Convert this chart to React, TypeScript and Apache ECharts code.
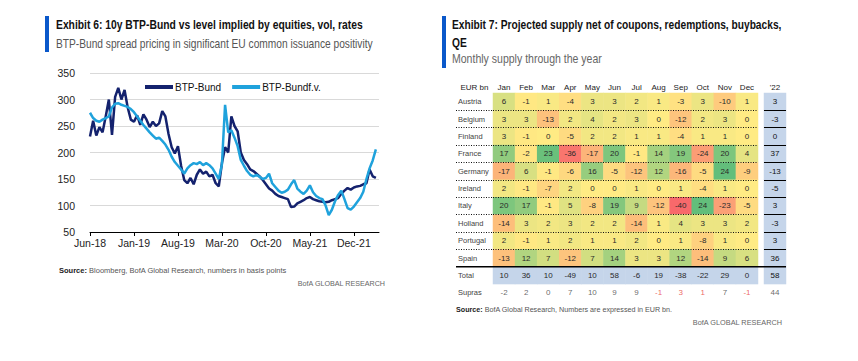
import React, { useEffect, useRef } from "react";
import * as echarts from "echarts";

const SANS = "'Liberation Sans', Arial, sans-serif";
const BLUE_BAR = "#0a58ca";
const DARK = "#14226e";
const LIGHT = "#1fa2dc";
const TOTAL_BLUE = "#c5d5ea";

// ---- Exhibit 6: semi-monthly observations starting Jun-2018 (bp)
const btpBund = [
  230, 260, 232, 248, 238, 268, 300, 233, 305, 322,
  300, 318, 285, 262, 258, 270, 252, 272, 262, 248,
  258, 250, 255, 278, 268, 235, 210, 198, 212, 175,
  148, 142, 152, 140, 158, 168, 160, 164, 155, 158,
  142, 136, 180, 210, 200, 268, 250, 240, 200, 186,
  178, 168, 165, 160, 155, 148, 140, 132, 128, 122,
  118, 116, 114, 112, 97, 98, 104, 107, 110, 114,
  116, 112, 110, 108, 107, 106, 107, 110, 112, 114,
  122, 128, 133, 130, 134, 136, 137, 140, 142, 168,
  155, 152,
];
const btpBundFv = [
  275, 265, 260, 258, 262, 265, 268, 285, 292, 293,
  290, 288, 286, 282, 276, 268, 260, 252, 245, 238,
  232, 226, 228, 222, 215, 205, 192, 182, 175, 168,
  160, 170, 176, 180, 178, 182, 176, 180, 176, 170,
  160, 150, 178, 290, 238, 242, 228, 212, 186, 175,
  165, 158, 155, 158, 154, 150, 152, 160, 142, 135,
  128, 124, 126, 130, 140, 148, 132, 126, 122, 128,
  138, 125, 118, 114, 112, 100, 82, 92, 108, 120,
  128, 112, 95, 92, 98, 106, 114, 126, 150, 170,
  185, 206,
];
const xTickMonths = [0, 7, 14, 21, 28, 35, 42];
const xTickLabels = ["Jun-18", "Jan-19", "Aug-19", "Mar-20", "Oct-20", "May-21", "Dec-21"];

// ---- Exhibit 7
const months = ["Jan", "Feb", "Mar", "Apr", "May", "Jun", "Jul", "Aug", "Sep", "Oct", "Nov", "Dec"];
const countries = ["Austria", "Belgium", "Finland", "France", "Germany", "Ireland", "Italy", "Holland", "Portugal", "Spain"];
const austria = [6, -1, 1, -4, 3, 3, 2, 1, -3, 3, -10, 1];
const belgium = [3, 3, -13, 2, 4, 2, 3, 0, -12, 2, 3, 0];
const finland = [3, -1, 0, -5, 2, 2, 1, 1, -4, 1, 1, 0];
const france = [17, -2, 23, -36, -17, 20, -1, 14, 19, -24, 20, 4];
const germany = [-17, 6, -1, -6, 16, -5, -12, 12, -16, -5, 24, -9];
const ireland = [2, -1, -7, 2, 0, 0, 1, 0, 1, -4, 1, 0];
const italy = [20, 17, -1, 5, -8, 19, 9, -12, -40, 24, -23, -5];
const holland = [-14, 3, 2, 3, 2, 2, -14, 1, 4, 3, 3, 2];
const portugal = [2, -1, 1, 2, 1, 1, 2, 0, 1, -8, 1, 0];
const spain = [-13, 12, 7, -12, 7, 14, 3, 3, 12, -14, 9, 6];
const year22 = [3, -3, 0, 37, -13, -5, 3, -3, 3, 36];
const totalRow = [10, 36, 10, -49, 10, 58, -6, 19, -38, -22, 29, 0];
const total22 = 58;
const suprasRow = [-2, 2, 0, 7, 10, 9, 9, -1, 3, 1, 7, -1];
const supras22 = 44;
const suprasRedMonths = ["Aug", "Sep", "Oct", "Dec"];

const countryRows = [austria, belgium, finland, france, germany, ireland, italy, holland, portugal, spain];

function hexToRgb(h: string) {
  return [1, 3, 5].map((i) => parseInt(h.slice(i, i + 2), 16));
}
function lerpHex(a: string, b: string, t: number) {
  const A = hexToRgb(a), B = hexToRgb(b);
  return "#" + A.map((v, i) => Math.round(v + (B[i] - v) * t).toString(16).padStart(2, "0")).join("");
}
const RED = "#f8696b", YEL = "#ffeb84", GRN = "#63be7b";
// stops every 8 units from -40 to 24 -> yellow at 0
const heatScale = [
  ...[0, 1, 2, 3, 4].map((k) => lerpHex(RED, YEL, k / 5)),
  ...[0, 1, 2, 3].map((k) => lerpHex(YEL, GRN, k / 3)),
];

const ROW_H = 17.37;
const TOP1 = 93;
const TOP2 = TOP1 + 10 * ROW_H;
const L_LEFT = 456, L_W = 37;
const M_LEFT = 493, M_W = 265;
const Y_LEFT = 764, Y_W = 22;

let measureCtx: CanvasRenderingContext2D | null = null;
function textWidth(text: string, font: string) {
  if (!measureCtx) measureCtx = document.createElement("canvas").getContext("2d");
  if (!measureCtx) return text.length * 6;
  measureCtx.font = font;
  return measureCtx.measureText(text).width;
}

const F_TITLE = `bold 12px ${SANS}`;
const F_SUB = `12px ${SANS}`;
const F_SRC_B = `bold 8px ${SANS}`;
const F_SRC = `8px ${SANS}`;

function fitText(x: number, y: number, text: string, font: string, target: number, fill: string, align = "left", scaleFrom?: number) {
  const s = scaleFrom ?? target / textWidth(text, font);
  return {
    type: "text", x, y, scaleX: s, scaleY: 1,
    style: { text, font, fill, align, verticalAlign: "middle" },
  };
}
function sourceText(x: number, y: number, rest: string, target: number) {
  const w = textWidth("Source:", F_SRC_B) + textWidth(" " + rest, F_SRC);
  return {
    type: "text", x, y, scaleX: target / w, scaleY: 1,
    style: {
      text: `{b|Source:}{n| ${rest}}`,
      verticalAlign: "middle",
      rich: {
        b: { fontWeight: "bold", fontSize: 8, fontFamily: SANS, fill: "#222" },
        n: { fontSize: 8, fontFamily: SANS, fill: "#555" },
      },
    },
  };
}

const cellLabel = {
  show: true,
  formatter: (p: any) => String(p.value[2]),
  fontSize: 8,
  fontFamily: SANS,
  color: "#2a2a2a",
};

function buildOption() {
  const heatData: number[][] = [];
  countryRows.forEach((row, r) => row.forEach((v, m) => heatData.push([m, r, v])));
  const y22Data = year22.map((v, r) => [0, r, v]);
  const totalData = totalRow.map((v, m) => [m, 0, v]);
  const suprasData = suprasRow.map((v, m) => ({
    value: [m, 1, v],
    label: { color: suprasRedMonths.includes(months[m]) ? "#e8423c" : "#444" },
  }));

  const hiddenCat = (grid: number, data: string[]) => ({
    type: "category", gridIndex: grid, data, show: false,
  });
  const tableY = (grid: number, data: string[], extra: any) => ({
    type: "category", gridIndex: grid, data, inverse: true,
    axisLine: { show: false }, axisTick: { show: false },
    ...extra,
  });
  const dotted = { show: true, showMinLine: false, showMaxLine: false, lineStyle: { color: "#111", type: [1, 1.5], width: 1 } };
  const solid = { show: true, showMinLine: false, showMaxLine: false, lineStyle: { color: "#000", type: "solid", width: 1 } };
  const headerX = (grid: number, data: string[]) => ({
    type: "category", gridIndex: grid, data, position: "top",
    axisLine: { show: false }, axisTick: { show: false },
    axisLabel: { fontSize: 8, fontFamily: SANS, color: "#222", margin: 2 },
  });
  const rowLabel = { show: true, inside: true, margin: 2, fontSize: 7.5, fontFamily: SANS, color: "#444" };
  const labelOnly = {
    type: "scatter", symbolSize: 1, itemStyle: { color: "rgba(0,0,0,0)" },
    emphasis: { disabled: true },
  };

  const t7 = "Exhibit 7: Projected supply net of coupons, redemptions, buybacks,";
  const t7scale = 330 / textWidth(t7, F_TITLE);

  return {
    animation: false,
    backgroundColor: "#fff",
    grid: [
      { left: 90, top: 73, width: 289, height: 159 },
      { left: L_LEFT, top: TOP1, width: L_W, height: 10 * ROW_H },
      { left: M_LEFT, top: TOP1, width: M_W, height: 10 * ROW_H },
      { left: Y_LEFT, top: TOP1, width: Y_W, height: 10 * ROW_H },
      { left: L_LEFT, top: TOP2, width: L_W, height: 2 * ROW_H },
      { left: M_LEFT, top: TOP2, width: M_W, height: 2 * ROW_H },
      { left: Y_LEFT, top: TOP2, width: Y_W, height: 2 * ROW_H },
    ],
    legend: {
      data: ["BTP-Bund", "BTP-Bundf.v."],
      left: 140, top: 77, icon: "rect", itemWidth: 28, itemHeight: 4, itemGap: 11,
      textStyle: { fontSize: 10, fontFamily: SANS, color: "#111", padding: [0, 0, 0, -3] },
    },
    xAxis: [
      {
        type: "value", gridIndex: 0, min: 0, max: 46,
        axisLine: { show: true, onZero: false, lineStyle: { color: "#000", width: 1 } },
        axisTick: { show: true, customValues: xTickMonths, length: 4, lineStyle: { color: "#000" } },
        axisLabel: {
          customValues: xTickMonths,
          formatter: (v: number) => { const i = xTickMonths.indexOf(v); return i >= 0 ? xTickLabels[i] : ""; },
          fontSize: 10.5, fontFamily: SANS, color: "#222", margin: 5,
        },
        splitLine: { show: false },
      },
      headerX(1, ["EUR bn"]),
      headerX(2, months),
      headerX(3, ["'22"]),
      hiddenCat(4, [""]),
      hiddenCat(5, months),
      hiddenCat(6, [""]),
    ],
    yAxis: [
      {
        type: "value", gridIndex: 0, min: 50, max: 350, interval: 50,
        axisLine: { show: false }, axisTick: { show: false },
        axisLabel: { fontSize: 10.5, fontFamily: SANS, color: "#222", margin: 15 },
        splitLine: { lineStyle: { color: "#d9d9d9", width: 1 } },
      },
      tableY(1, countries, { axisLabel: rowLabel, splitLine: dotted }),
      tableY(2, countries, { axisLabel: { show: false }, splitLine: dotted, z: 5 }),
      tableY(3, countries, { axisLabel: { show: false }, splitLine: solid, z: 5 }),
      tableY(4, ["Total", "Supras"], { axisLabel: rowLabel, splitLine: { show: false } }),
      tableY(5, ["Total", "Supras"], { axisLabel: { show: false }, splitLine: { show: false } }),
      tableY(6, ["Total", "Supras"], { axisLabel: { show: false }, splitLine: { show: false } }),
    ],
    visualMap: [
      {
        type: "continuous", show: false, seriesIndex: 2, dimension: 2,
        min: -40, max: 24, inRange: { color: heatScale },
      },
      {
        type: "continuous", show: false, seriesIndex: [3, 4, 5], dimension: 2,
        min: -100, max: 100, inRange: { color: [TOTAL_BLUE, TOTAL_BLUE] },
      },
    ],
    series: [
      {
        name: "BTP-Bund", type: "line", xAxisIndex: 0, yAxisIndex: 0,
        data: btpBund.map((v, i) => [i / 2, v]), showSymbol: false, symbol: "none",
        lineStyle: { color: DARK, width: 2.5 }, itemStyle: { color: DARK },
      },
      {
        name: "BTP-Bundf.v.", type: "line", xAxisIndex: 0, yAxisIndex: 0,
        data: btpBundFv.map((v, i) => [i / 2, v]), showSymbol: false, symbol: "none",
        lineStyle: { color: LIGHT, width: 2.5 }, itemStyle: { color: LIGHT },
      },
      {
        name: "supply", type: "heatmap", xAxisIndex: 2, yAxisIndex: 2, data: heatData,
        label: cellLabel, emphasis: { disabled: true },
      },
      {
        name: "y22", type: "heatmap", xAxisIndex: 3, yAxisIndex: 3, data: y22Data,
        label: { ...cellLabel, color: "#111" }, emphasis: { disabled: true },
      },
      {
        name: "total", type: "heatmap", xAxisIndex: 5, yAxisIndex: 5, data: totalData,
        label: cellLabel, emphasis: { disabled: true },
      },
      {
        name: "total22", type: "heatmap", xAxisIndex: 6, yAxisIndex: 6, data: [[0, 0, total22]],
        label: { ...cellLabel, color: "#111" }, emphasis: { disabled: true },
      },
      {
        ...labelOnly, name: "supras", xAxisIndex: 5, yAxisIndex: 5, data: suprasData,
        label: { ...cellLabel, position: "inside" },
      },
      {
        ...labelOnly, name: "supras22", xAxisIndex: 6, yAxisIndex: 6, data: [[0, 1, supras22]],
        label: { ...cellLabel, position: "inside", color: "#444" },
      },
    ],
    graphic: [
      { type: "rect", shape: { x: 45, y: 16, width: 4, height: 36 }, style: { fill: BLUE_BAR } },
      fitText(56, 25, "Exhibit 6: 10y BTP-Bund vs level implied by equities, vol, rates", F_TITLE, 307, "#111"),
      fitText(56, 44, "BTP-Bund spread pricing in significant EU common issuance positivity", F_SUB, 317, "#555"),
      sourceText(59, 270, "Bloomberg, BofA Global Research, numbers in basis points", 228),
      fitText(385, 283, "BofA GLOBAL RESEARCH", F_SRC, 88, "#666", "right"),
      { type: "rect", shape: { x: 442, y: 16, width: 4, height: 52 }, style: { fill: BLUE_BAR } },
      fitText(452, 25, t7, F_TITLE, 330, "#111", "left", t7scale),
      fitText(452, 43, "QE", F_TITLE, 0, "#111", "left", t7scale),
      fitText(452, 59, "Monthly supply through the year", F_SUB, 150, "#666"),
      {
        type: "line", shape: { x1: L_LEFT, y1: TOP2, x2: Y_LEFT + Y_W, y2: TOP2 },
        style: { stroke: "#000", lineWidth: 1.4 }, z: 10,
      },
      sourceText(456, 309, "BofA Global Research, Numbers are expressed in EUR bn.", 217),
      fitText(782, 322, "BofA GLOBAL RESEARCH", F_SRC, 90, "#666", "right"),
    ],
  };
}

export default function App() {
  const ref = useRef<HTMLDivElement>(null);
  useEffect(() => {
    const chart = echarts.init(ref.current!, null, { renderer: "svg" });
    chart.setOption(buildOption() as any);
    return () => chart.dispose();
  }, []);
  return (
    <div
      ref={ref}
      style={{ position: "fixed", left: 0, top: 0, width: 858, height: 361, background: "#fff" }}
    />
  );
}
